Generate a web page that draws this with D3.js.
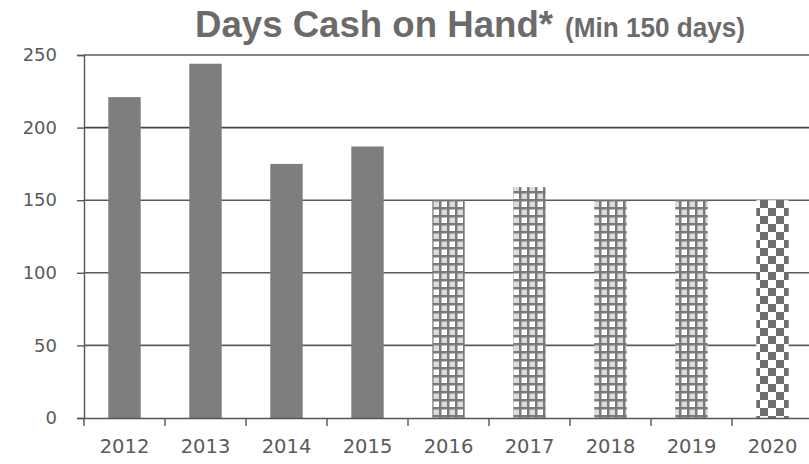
<!DOCTYPE html>
<html>
<head>
<meta charset="utf-8">
<script src="https://cdn.jsdelivr.net/npm/d3@7"></script>
<style>
  body { margin: 0; background: #fff; }
  svg { display: block; }
</style>
</head>
<body>
<svg id="chart" width="809" height="464"></svg>
<script>
// chart values
const years = ['2012', '2013', '2014', '2015', '2016', '2017', '2018', '2019', '2020'];
const daysCash = [221, 244, 175, 187, 150, 159, 150, 150, 150];
const projected = [false, false, false, false, true, true, true, true, true];
const yTicks = [0, 50, 100, 150, 200, 250];

const svg = d3.select('#chart');
const margin = { top: 55, left: 84, bottom: 46 };
const width = 809, height = 464;

const x = d3.scaleBand()
  .domain(years)
  .range([margin.left, margin.left + 81 * years.length])
  .paddingInner(0.6)
  .paddingOuter(0.3);

const y = d3.scaleLinear()
  .domain([0, 250])
  .range([height - margin.bottom, margin.top]);

// patterns for projected years
const defs = svg.append('defs');
const grid = defs.append('pattern')
  .attr('id', 'gridPat')
  .attr('patternUnits', 'userSpaceOnUse')
  .attr('width', 16).attr('height', 16);
grid.append('rect').attr('width', 16).attr('height', 16).attr('fill', '#7a7a7a');
[[1.5, 1.5], [9.5, 9.5]].forEach(p => {
  grid.append('rect').attr('x', p[0]).attr('y', p[1]).attr('width', 5.5).attr('height', 5.5).attr('fill', '#fff');
});
[[9.5, 1.5], [1.5, 9.5]].forEach(p => {
  grid.append('rect').attr('x', p[0]).attr('y', p[1]).attr('width', 5.5).attr('height', 5.5).attr('fill', '#dcdcdc');
});

const checker = defs.append('pattern')
  .attr('id', 'checkPat')
  .attr('patternUnits', 'userSpaceOnUse')
  .attr('width', 16).attr('height', 16);
checker.append('rect').attr('width', 16).attr('height', 16).attr('fill', '#fff');
checker.append('rect').attr('width', 8).attr('height', 8).attr('fill', '#6e6e6e');
checker.append('rect').attr('x', 8).attr('y', 8).attr('width', 8).attr('height', 8).attr('fill', '#6e6e6e');

// title
svg.append('text')
  .attr('x', 195).attr('y', 37)
  .attr('font-family', 'Liberation Sans, Arial, sans-serif')
  .attr('font-weight', 'bold')
  .attr('font-size', 36)
  .attr('fill', '#6b6b6b')
  .attr('textLength', 358)
  .attr('lengthAdjust', 'spacingAndGlyphs')
  .text('Days Cash on Hand*');
svg.append('text')
  .attr('x', 565).attr('y', 37)
  .attr('font-family', 'Liberation Sans, Arial, sans-serif')
  .attr('font-weight', 'bold')
  .attr('font-size', 27)
  .attr('fill', '#6b6b6b')
  .attr('textLength', 180)
  .attr('lengthAdjust', 'spacingAndGlyphs')
  .text('(Min 150 days)');

// gridlines
svg.append('g')
  .selectAll('line')
  .data(yTicks.filter(d => d > 0))
  .join('line')
  .attr('x1', margin.left).attr('x2', width)
  .attr('y1', d => y(d)).attr('y2', d => y(d))
  .attr('stroke', d => d === 200 ? '#444' : '#5a5a5a')
  .attr('stroke-width', 1.6);

// bars
svg.append('g')
  .selectAll('rect')
  .data(years)
  .join('rect')
  .attr('x', d => x(d))
  .attr('width', x.bandwidth())
  .attr('y', (d, i) => y(daysCash[i]))
  .attr('height', (d, i) => y(0) - y(daysCash[i]))
  .attr('fill', (d, i) => !projected[i] ? '#7e7e7e' : (d === '2020' ? 'url(#checkPat)' : 'url(#gridPat)'));

// y axis
const yAxis = svg.append('g')
  .attr('transform', `translate(${margin.left},0)`)
  .call(d3.axisLeft(y).tickValues(yTicks).tickSize(7).tickPadding(20));
yAxis.select('.domain').attr('stroke', '#555').attr('stroke-width', 1.4);
yAxis.selectAll('.tick line').attr('stroke', '#555').attr('stroke-width', 1.4);
yAxis.selectAll('.tick text')
  .attr('font-family', 'DejaVu Sans, sans-serif')
  .attr('font-size', 18)
  .attr('fill', '#5a5a5a');

// x axis
const xAxis = svg.append('g')
  .attr('transform', `translate(0,${y(0)})`)
  .call(d3.axisBottom(x).tickSize(0).tickPadding(21));
xAxis.select('.domain').attr('stroke', '#555').attr('stroke-width', 1.4);
xAxis.selectAll('.tick text')
  .attr('font-family', 'DejaVu Sans, sans-serif')
  .attr('font-size', 19.5)
  .attr('fill', '#5a5a5a');

// category separators below the axis
svg.append('g')
  .selectAll('line')
  .data(years)
  .join('line')
  .attr('x1', d => x(d) - x.step() * x.paddingOuter()).attr('x2', d => x(d) - x.step() * x.paddingOuter())
  .attr('y1', y(0)).attr('y2', y(0) + 8)
  .attr('stroke', '#555').attr('stroke-width', 1.4);
</script>
</body>
</html>
